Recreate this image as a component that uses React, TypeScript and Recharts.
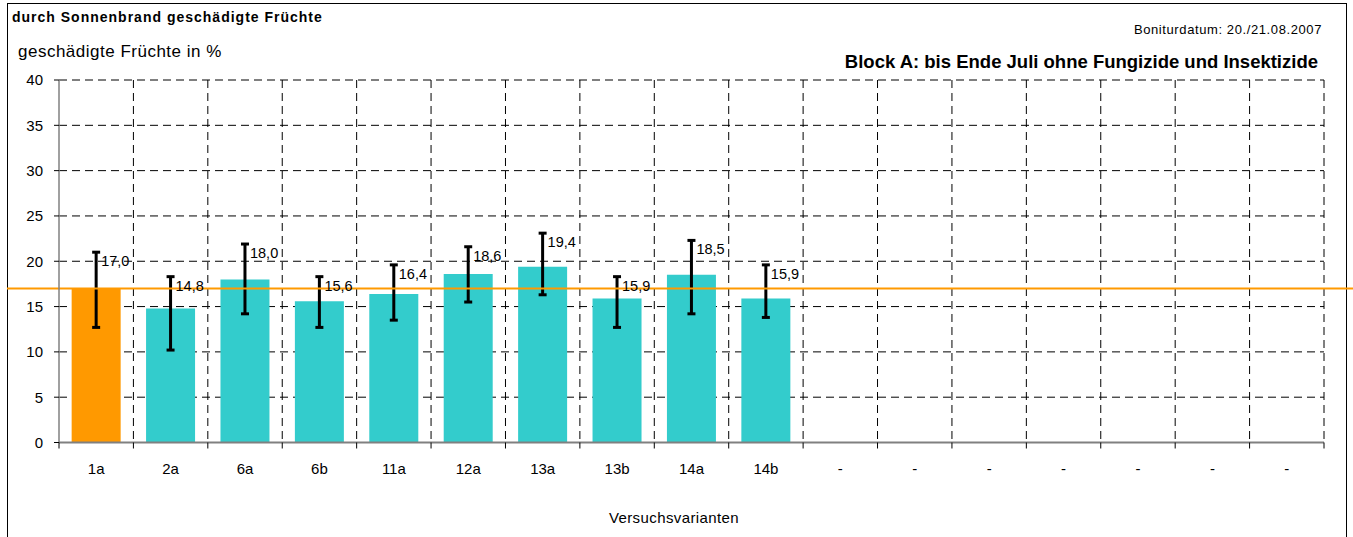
import React from 'react';
import {
  BarChart, Bar, XAxis, YAxis, CartesianGrid, ErrorBar, LabelList, ReferenceLine, Cell,
} from 'recharts';

const categories = ['1a', '2a', '6a', '6b', '11a', '12a', '13a', '13b', '14a', '14b', '-', '-', '-', '-', '-', '-', '-'];
const values = [17.0, 14.8, 18.0, 15.6, 16.4, 18.6, 19.4, 15.9, 18.5, 15.9];
const errLow = [4.3, 4.6, 3.8, 2.9, 2.9, 3.1, 3.1, 3.2, 4.3, 2.1];
const errHigh = [4.0, 3.5, 3.9, 2.7, 3.2, 3.0, 3.7, 2.4, 3.8, 3.7];
const yTicks = [0, 5, 10, 15, 20, 25, 30, 35, 40];
const referenceValue = 17.0;

const W = 1353;
const H = 537;
const PLOT_LEFT = 59;
const PLOT_RIGHT = 1324;
const PLOT_TOP = 80;
const PLOT_BOTTOM = 442.5;
const FONT = '"Liberation Sans", Arial, sans-serif';
const TEAL = '#33CCCC';
const ORANGE = '#FF9900';

const data = categories.map((name, i) => ({
  name,
  value: i < values.length ? values[i] : null,
  err: i < values.length ? [errLow[i], errHigh[i]] : null,
}));

const band = (PLOT_RIGHT - PLOT_LEFT) / categories.length;

const XTick = (props: any) => {
  const { x, payload, index } = props;
  return (
    <g>
      <line x1={x - band / 2} x2={x - band / 2} y1={PLOT_BOTTOM} y2={PLOT_BOTTOM + 6} stroke="#000" />
      {index === categories.length - 1 && (
        <line x1={x + band / 2} x2={x + band / 2} y1={PLOT_BOTTOM} y2={PLOT_BOTTOM + 6} stroke="#000" />
      )}
      <text x={x} y={PLOT_BOTTOM + 31} textAnchor="middle" fontSize={15} fontFamily={FONT} fill="#000">
        {payload.value}
      </text>
    </g>
  );
};

// label sits right of the upper error cap
const ValueLabel = (props: any) => {
  const { x, y, width, height, value, index } = props;
  if (value == null) return null;
  const pxPerUnit = height / value;
  const topY = y - errHigh[index] * pxPerUnit;
  return (
    <text x={x + width / 2 + 5} y={topY + 9} dominantBaseline="central" fontSize={14.5} fontFamily={FONT} fill="#000">
      {value.toFixed(1).replace('.', ',')}
    </text>
  );
};

const RefShape = (props: any) => (
  <line x1={7} x2={W} y1={props.y1} y2={props.y1} stroke={ORANGE} strokeWidth={2} />
);

export default function App() {
  return (
    <div style={{ position: 'relative', width: W, height: H, overflow: 'hidden', fontFamily: FONT, background: '#fff' }}>
      <style>{'body{margin:0}'}</style>
      <div style={{ position: 'absolute', left: 7, top: 3, width: 1340, height: 700, border: '1px solid #000', boxSizing: 'border-box' }} />
      <div style={{ position: 'absolute', left: 12, top: 9, lineHeight: '16px', fontSize: 14, fontWeight: 'bold', letterSpacing: 1, whiteSpace: 'nowrap' }}>
        durch Sonnenbrand geschädigte Früchte
      </div>
      <div style={{ position: 'absolute', left: 18, top: 42, lineHeight: '20px', fontSize: 17, letterSpacing: 0.5, whiteSpace: 'nowrap' }}>
        geschädigte Früchte in %
      </div>
      <div style={{ position: 'absolute', right: 31, top: 22, lineHeight: '16px', fontSize: 13, letterSpacing: 0.6, whiteSpace: 'nowrap' }}>
        Boniturdatum: 20./21.08.2007
      </div>
      <div style={{ position: 'absolute', right: 35, top: 51, lineHeight: '22px', fontSize: 18.5, fontWeight: 'bold', whiteSpace: 'nowrap' }}>
        Block A: bis Ende Juli ohne Fungizide und Insektizide
      </div>
      <div style={{ position: 'absolute', left: 674, top: 509, transform: 'translateX(-50%)', lineHeight: '18px', fontSize: 15, letterSpacing: 0.4, whiteSpace: 'nowrap' }}>
        Versuchsvarianten
      </div>
      <div style={{ position: 'absolute', left: 0, top: 0 }}>
        <BarChart
          width={W}
          height={H}
          data={data}
          margin={{ top: PLOT_TOP, right: W - PLOT_RIGHT, bottom: 64.5, left: 8 }}
          barCategoryGap="17%"
        >
          <CartesianGrid
            stroke="#000"
            strokeDasharray="8 5"
            verticalCoordinatesGenerator={({ offset }: any) =>
              categories.map((_, i) => offset.left + ((i + 1) * offset.width) / categories.length)
            }
          />
          <XAxis
            dataKey="name"
            height={30}
            tickLine={false}
            axisLine={{ stroke: '#808080', strokeWidth: 2 }}
            tick={<XTick />}
            interval={0}
          />
          <YAxis
            width={51}
            domain={[0, 40]}
            ticks={yTicks}
            tickSize={5}
            tickMargin={11}
            tickLine={{ stroke: '#000' }}
            axisLine={{ stroke: '#808080', strokeWidth: 1.5 }}
            tick={{ fontSize: 15, fill: '#000', fontFamily: FONT }}
          />
          <Bar dataKey="value" fill={TEAL} isAnimationActive={false}>
            {data.map((d, i) => (
              <Cell key={`c-${i}`} fill={i === 0 ? ORANGE : TEAL} />
            ))}
            <ErrorBar dataKey="err" width={4} strokeWidth={3} stroke="#000" />
            <LabelList dataKey="value" content={<ValueLabel />} />
          </Bar>
          <ReferenceLine y={referenceValue} shape={<RefShape />} />
        </BarChart>
      </div>
    </div>
  );
}
